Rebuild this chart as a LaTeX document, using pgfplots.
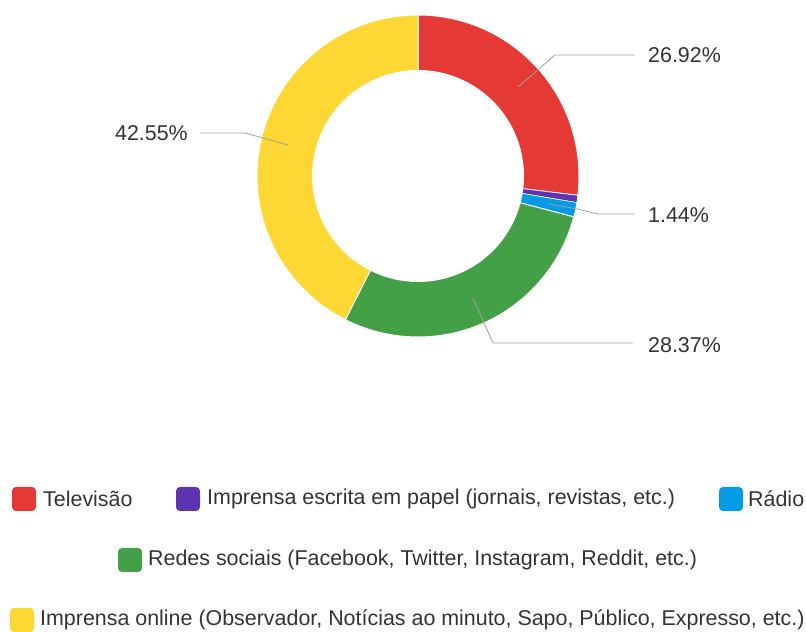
\documentclass[border=0pt]{standalone}
\usepackage{pgfplots}
\pgfplotsset{compat=1.18}
\usepackage{fontspec}
\setmainfont{Liberation Sans}
\definecolor{cTV}{HTML}{E53935}
\definecolor{cPapel}{HTML}{5E35B1}
\definecolor{cRadio}{HTML}{039BE5}
\definecolor{cRedes}{HTML}{43A047}
\definecolor{cOnline}{HTML}{FDD835}
\definecolor{txt}{HTML}{333333}
\definecolor{lead}{HTML}{A0A0A0}
\begin{document}
\begin{tikzpicture}
\begin{axis}[width=806bp, height=632bp, scale only axis,
  xmin=0, xmax=806, ymin=0, ymax=632, hide axis, clip=false]
% percentages: 26.92, 0.72, 1.44, 28.37, 42.55 (clockwise from top)
\addplot[fill=cTV, draw=white, line width=1pt, domain={90-3.6*26.92}:{90}, samples=120]
  ({418+161*cos(x)},{456+161*sin(x)}) -- (axis cs:418,456) -- cycle;
\addplot[fill=cPapel, draw=white, line width=0.6pt, domain={90-3.6*(26.92+0.72)}:{90-3.6*26.92}, samples=10]
  ({418+161*cos(x)},{456+161*sin(x)}) -- (axis cs:418,456) -- cycle;
\addplot[fill=cRadio, draw=white, line width=0.6pt, domain={90-3.6*(27.64+1.44)}:{90-3.6*27.64}, samples=10]
  ({418+161*cos(x)},{456+161*sin(x)}) -- (axis cs:418,456) -- cycle;
\addplot[fill=cRedes, draw=white, line width=1pt, domain={90-3.6*(29.08+28.37)}:{90-3.6*29.08}, samples=120]
  ({418+161*cos(x)},{456+161*sin(x)}) -- (axis cs:418,456) -- cycle;
\addplot[fill=cOnline, draw=white, line width=1pt, domain={90-3.6*(57.45+42.55)}:{90-3.6*57.45}, samples=150]
  ({418+161*cos(x)},{456+161*sin(x)}) -- (axis cs:418,456) -- cycle;
\addplot[fill=white, draw=none, domain=0:360, samples=200]
  ({418+106*cos(x)},{456+106*sin(x)}) -- cycle;
% leader lines
\draw[lead, line width=0.8pt] (axis cs:518,545) -- (axis cs:555,577) -- (axis cs:635,577);
\draw[lead, line width=0.8pt] (axis cs:549,428) -- (axis cs:577,423) -- (axis cs:598,418) -- (axis cs:635,418);
\draw[lead, line width=0.8pt] (axis cs:473,334) -- (axis cs:493,289) -- (axis cs:633,289);
\draw[lead, line width=0.8pt] (axis cs:288,487) -- (axis cs:245,499) -- (axis cs:200,499);
% labels
\tikzset{lbl/.style={text=txt, font=\fontsize{21.5}{24}\selectfont, inner sep=0pt}}
\node[lbl, anchor=west] at (axis cs:648,577) {26.92\%};
\node[lbl, anchor=west] at (axis cs:648,417) {1.44\%};
\node[lbl, anchor=west] at (axis cs:648,287) {28.37\%};
\node[lbl, anchor=east] at (axis cs:188,499) {42.55\%};
% legend
\tikzset{leg/.style={text=txt, font=\fontsize{21.5}{24}\selectfont, inner sep=0pt, anchor=west}}
\fill[cTV, rounded corners=4pt] (axis cs:12,121) rectangle (axis cs:36,145);
\node[leg] at (axis cs:43,133) {Televisão};
\fill[cPapel, rounded corners=4pt] (axis cs:176,121) rectangle (axis cs:200,145);
\node[leg] at (axis cs:207,133) {Imprensa escrita em papel (jornais, revistas, etc.)};
\fill[cRadio, rounded corners=4pt] (axis cs:719,121) rectangle (axis cs:743,145);
\node[leg] at (axis cs:748,133) {Rádio};
\fill[cRedes, rounded corners=4pt] (axis cs:118,60) rectangle (axis cs:142,84);
\node[leg] at (axis cs:148,72) {Redes sociais (Facebook, Twitter, Instagram, Reddit, etc.)};
\fill[cOnline, rounded corners=4pt] (axis cs:10,0) rectangle (axis cs:34,24);
\node[leg] at (axis cs:40,12) {Imprensa online (Observador, Notícias ao minuto, Sapo, Público, Expresso, etc.)};
\end{axis}
\pgfresetboundingbox
\path (0,0) rectangle (806bp,632bp);
\end{tikzpicture}
\end{document}
